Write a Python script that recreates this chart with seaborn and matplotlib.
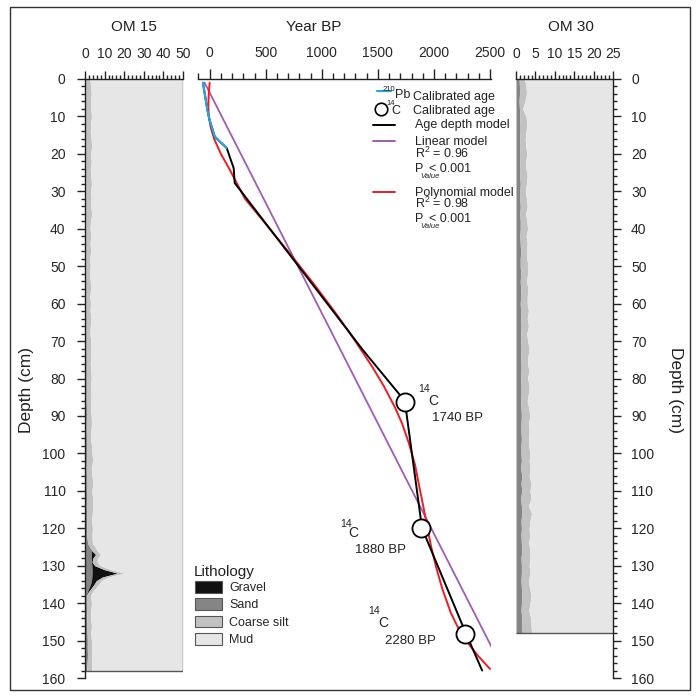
"""Age-depth model with grain size columns of two cores."""

import matplotlib
matplotlib.use('Agg')
import matplotlib.pyplot as plt
from matplotlib.patches import Patch, Rectangle
from matplotlib.ticker import MultipleLocator
import seaborn as sns

# ---- data ----
# 210Pb calibrated ages (yr BP, depth cm)
pb_age = [-60, -45, -20, 0, 45, 104, 152]
pb_depth = [1, 3.7, 8.3, 11, 15.4, 17.1, 18.4]

# age depth model
adm_age = [-60, -45, -20, 0, 45, 104, 152, 179, 214, 223, 283, 339, 1366, 1696, 1741, 1893, 2286, 2429]
adm_depth = [1, 3.7, 8.3, 11, 15.4, 17.1, 18.4, 20.8, 23.8, 27.8, 30.1, 32.3, 72.4, 84.4, 86.3, 120, 148.2, 158]

# 14C dated samples
c14_age = [1740, 1880, 2280]
c14_depth = [86.3, 120, 148.2]
c14_labels = ['1740 BP', '1880 BP', '2280 BP']

# linear model
lin_age = [-45, 2518]
lin_depth = [1, 152]

# polynomial model
poly_age = [0, -8, -12, -8, 10, 40, 100, 175, 245, 315, 480, 714, 935, 1110, 1230, 1342, 1452,
            1552, 1650, 1715, 1775, 1830, 1875, 1910, 1940, 1975, 2018, 2072, 2150, 2205, 2280, 2390, 2500]
poly_depth = [1, 4, 7, 10, 13, 16, 20, 24, 28, 32, 38, 46.6, 55, 62, 67, 72, 77,
              82, 87.6, 92, 97.2, 103, 109.8, 115, 119.7, 125, 130.3, 136, 142.6, 146, 149.8, 154, 157.6]

# OM 15 grain size (stacked: sand, gravel, coarse silt, then mud)
d15 = [0, 2, 4, 6, 8, 10, 12, 14, 16, 18, 20, 22, 24, 26, 28, 30, 32, 34, 36, 38,
       40, 42, 44, 46, 48, 50, 52, 54, 56, 58, 60, 62, 64, 66, 68, 70, 72, 74, 76, 78,
       80, 82, 84, 86, 88, 90, 92, 94, 96, 98, 100, 102, 104, 106, 108, 110, 112, 114, 116, 118,
       120, 122, 124, 125, 126, 127, 128, 129, 130, 131, 132, 133, 134, 135, 136, 137, 138,
       140, 142, 144, 146, 148, 150, 152, 154, 156, 158]
sand15 = [0.3, 0.3, 0.4, 0.3, 0.3, 0.4, 0.3, 0.3, 0.3, 0.4,
          0.3, 0.4, 0.3, 0.3, 0.4, 0.4, 0.3, 0.3, 0.5, 0.4,
          0.4, 0.4, 0.5, 0.5, 0.4, 0.4, 0.4, 0.5, 0.5, 0.5,
          0.5, 0.5, 0.6, 0.5, 0.5, 0.6, 0.5, 0.6, 0.6, 0.6,
          0.6, 0.6, 0.6, 0.6, 0.7, 0.7, 0.6, 0.6, 0.7, 0.7,
          0.7, 0.7, 0.6, 0.7, 0.7, 0.7, 0.8, 0.7, 0.8, 0.8,
          0.8, 0.9, 1.4,
          2.4, 3.2, 3.3, 3.2, 3.3, 3.5, 3.6, 3.6, 3.5, 3.3, 2.8, 2.0, 1.2, 0.7,
          0.7, 0.8, 0.9, 1.0, 1.1, 1.2, 1.2, 1.3, 1.1, 0.9]
gravel15 = [0] * 63 + [0, 0.3, 2.1, 0.8, 0.3, 1.5, 6.0, 12.9, 5.5, 2.5, 1.8, 1.2, 0.5, 0] + [0] * 10
silt15 = [2.2, 2.6, 2.8, 2.5, 2.7, 2.9, 2.6, 2.4, 2.8, 3.0,
          2.6, 2.8, 2.4, 2.7, 2.9, 2.5, 2.8, 2.6, 3.0, 2.4,
          2.2, 2.5, 2.1, 2.4, 2.0, 2.3, 1.9, 2.2, 2.4, 2.0,
          2.3, 2.1, 2.5, 2.2, 2.0, 2.4, 2.6, 2.3, 2.1, 2.4,
          2.6, 2.2, 2.5, 2.3, 2.1, 2.5, 2.7, 2.4, 2.2, 2.6,
          2.9, 3.2, 2.6, 2.9, 3.3, 2.8, 3.1, 3.4, 2.9, 2.6,
          3.0, 2.7, 2.4,
          2.8, 2.6, 2.6, 2.4, 2.6, 2.8, 3.2, 3.4, 3.0, 2.6, 2.4, 2.2, 2.0, 2.2,
          2.6, 2.2, 2.0, 2.3, 1.9, 2.1, 2.4, 2.0, 2.2, 2.4]

# OM 30 grain size
d30 = list(range(0, 149, 2))
sand30 = [0.8, 0.9, 0.9, 0.8, 0.9, 1.0, 0.9, 0.9, 1.0, 0.9,
          1.0, 1.0, 0.9, 1.0, 1.1, 1.0, 1.0, 1.1, 1.0, 1.1,
          1.1, 1.0, 1.1, 1.2, 1.1, 1.1, 1.2, 1.1, 1.2, 1.2,
          1.1, 1.2, 1.2, 1.3, 1.2, 1.2, 1.3, 1.2, 1.3, 1.3,
          1.2, 1.3, 1.3, 1.2, 1.3, 1.4, 1.3, 1.3, 1.4, 1.3,
          1.3, 1.4, 1.2, 1.5, 1.3, 1.5, 1.2, 1.4, 1.5, 1.3,
          1.4, 1.3, 1.4, 1.5, 1.3, 1.4, 1.4, 1.3, 1.4, 1.5,
          1.4, 1.3, 1.5, 1.4, 1.6]
silt30 = [1.4, 1.7, 1.8, 1.5, 0.8, 1.6, 1.9, 1.7, 1.4, 1.6,
          1.8, 1.5, 1.7, 1.9, 1.6, 1.4, 1.7, 1.8, 1.5, 1.7,
          1.9, 1.6, 1.8, 1.5, 1.7, 2.0, 1.8, 1.6, 1.9, 1.7,
          1.8, 2.0, 1.7, 1.9, 1.6, 1.8, 2.1, 1.9, 1.7, 2.0,
          1.8, 2.1, 1.9, 1.7, 2.0, 2.2, 1.9, 2.1, 1.8, 2.0,
          2.3, 2.0, 2.4, 1.9, 2.6, 2.1, 2.7, 1.8, 2.5, 2.3,
          2.0, 2.2, 1.9, 2.1, 2.3, 2.0, 2.2, 1.9, 2.1, 2.4,
          2.2, 2.0, 2.3, 2.5, 2.4]

litho_names = ['Gravel', 'Sand', 'Coarse silt', 'Mud']
litho_colors = ['#111111', '#858585', '#c2c2c2', '#e6e6e6']

BLUE = '#2ea3dc'
PURPLE = '#a05cb4'
RED = '#ee1c24'
INK = '#222222'

sns.set_theme(style='white')
plt.rcParams['font.family'] = ['Liberation Sans', 'DejaVu Sans']
plt.rcParams['mathtext.fontset'] = 'custom'
plt.rcParams['mathtext.rm'] = 'Liberation Sans'
plt.rcParams['mathtext.it'] = 'Liberation Sans:italic'

W, H = 696, 697
fig = plt.figure(figsize=(W / 100, H / 100), dpi=100)

y_top, y_bot = 79, 678
def rect(x0, x1):
    return [x0 / W, 1 - y_bot / H, (x1 - x0) / W, (y_bot - y_top) / H]

ax15 = fig.add_axes(rect(85, 183))
axm = fig.add_axes(rect(198, 491))
ax30 = fig.add_axes(rect(516, 613))

for ax in (ax15, axm, ax30):
    ax.set_ylim(160, 0)
    ax.set_facecolor('none')
    for s in ax.spines.values():
        s.set_visible(False)
        s.set_color(INK)
        s.set_linewidth(1.0)
    ax.spines['top'].set_visible(True)
    ax.xaxis.set_ticks_position('top')
    ax.tick_params(axis='x', which='major', direction='out', length=6, width=1,
                   color=INK, labelsize=10, pad=7, top=True, bottom=False)
    ax.tick_params(axis='x', which='minor', direction='out', length=3, width=1,
                   color=INK, top=True, bottom=False)
    ax.grid(False)


def stack_column(ax, depth, layers, colors, xmax):
    # stacked fills from the left, remainder filled with mud
    left = [0.0] * len(depth)
    for vals, col in zip(layers, colors):
        right = [a + b for a, b in zip(left, vals)]
        ax.fill_betweenx(depth, left, right, color=col, linewidth=0)
        left = right
    ax.fill_betweenx(depth, left, xmax, color=litho_colors[3], linewidth=0)
    ax.hlines(depth[-1], 0, xmax, color='#555555', lw=1.0)


# ---- OM 15 ----
ax15.set_xlim(0, 50)
stack_column(ax15, d15, [sand15, gravel15, silt15],
             [litho_colors[1], litho_colors[0], litho_colors[2]], 50)
ax15.vlines(50, 0, d15[-1], color='#555555', lw=1.0)
ax15.set_xticks([0, 10, 20, 30, 40, 50])
ax15.xaxis.set_minor_locator(MultipleLocator(2))
ax15.spines['left'].set_visible(True)
ax15.yaxis.set_ticks_position('left')
ax15.set_yticks(range(0, 161, 10))
ax15.yaxis.set_minor_locator(MultipleLocator(2))
ax15.tick_params(axis='y', which='major', direction='out', length=6, width=1,
                 color=INK, labelsize=10, pad=8, left=True)
ax15.tick_params(axis='y', which='minor', direction='out', length=3, width=1,
                 color=INK, left=True)

# ---- OM 30 ----
ax30.set_xlim(0, 25)
stack_column(ax30, d30, [sand30, silt30], [litho_colors[1], litho_colors[2]], 25)
ax30.set_xticks([0, 5, 10, 15, 20, 25])
ax30.xaxis.set_minor_locator(MultipleLocator(1))
ax30.spines['right'].set_visible(True)
ax30.yaxis.set_ticks_position('right')
ax30.set_yticks(range(0, 161, 10))
ax30.yaxis.set_minor_locator(MultipleLocator(2))
ax30.tick_params(axis='y', which='major', direction='out', length=6, width=1,
                 color=INK, labelsize=10, pad=7, right=True, left=False,
                 labelright=True, labelleft=False)
ax30.tick_params(axis='y', which='minor', direction='out', length=3, width=1,
                 color=INK, right=True, left=False)

# ---- age model ----
axm.set_zorder(3)
sns.lineplot(x=lin_age, y=lin_depth, sort=False, estimator=None, color=PURPLE, lw=1.3, ax=axm)
sns.lineplot(x=poly_age, y=poly_depth, sort=False, estimator=None, color=RED, lw=1.4, ax=axm)
sns.lineplot(x=adm_age, y=adm_depth, sort=False, estimator=None, color='black', lw=1.4, ax=axm)
sns.lineplot(x=pb_age, y=pb_depth, sort=False, estimator=None, color=BLUE, lw=1.6, ax=axm)
sns.scatterplot(x=c14_age, y=c14_depth, s=170, marker='o', facecolor='white',
                edgecolor='black', linewidth=1.3, zorder=5, ax=axm)
axm.set_xlabel('')
axm.set_ylabel('')
axm.set_ylim(160, 0)
axm.set_xlim(-104, 2508)
axm.set_xticks([0, 500, 1000, 1500, 2000, 2500])
axm.xaxis.set_minor_locator(MultipleLocator(100))
axm.set_yticks([])
axm.tick_params(axis='x', which='major', length=7)
axm.tick_params(axis='x', which='minor', length=4)

# annotations for 14C dates (superscript, C, label)
ann_pos = [((1860, 83.5), (1949, 87.1), (1979, 91.3)),
           ((1161, 119.6), (1235, 122.4), (1295, 126.5)),
           ((1414, 143.0), (1503, 146.5), (1563, 150.9))]
for (p14, pc, plab), lab in zip(ann_pos, c14_labels):
    axm.text(*p14, '14', fontsize=7.5, va='baseline', color=INK)
    axm.text(*pc, 'C', fontsize=10, va='baseline', color=INK)
    axm.text(*plab, lab, fontsize=9.5, va='baseline', color=INK)

# in-plot legend
kw = dict(fontsize=9, va='baseline', color=INK, clip_on=False)
small = dict(fontsize=5.5, va='baseline', color=INK, clip_on=False)
axm.plot([1488, 1613], [3.2, 3.2], color=BLUE, lw=1.6)
axm.text(1542, 3.1, '210', **small)
axm.text(1652, 5.2, 'Pb', **kw)
axm.text(1812, 5.6, 'Calibrated age', **kw)
axm.plot([1530], [8.0], marker='o', ms=9, mfc='white', mec='black', mew=1.2)
axm.text(1577, 6.9, '14', **small)
axm.text(1622, 9.4, 'C', **kw)
axm.text(1812, 9.4, 'Calibrated age', **kw)
axm.plot([1458, 1652], [12.3, 12.3], color='black', lw=1.4)
axm.text(1830, 13.2, 'Age depth model', **kw)
axm.plot([1458, 1652], [16.6, 16.6], color=PURPLE, lw=1.4)
axm.text(1830, 17.5, 'Linear model', **kw)
axm.text(1830, 21.2, 'R$^2$ = 0.96', **kw)
axm.text(1830, 24.8, 'P', **kw)
axm.text(1875, 26.4, 'Value', style='italic', **small)
axm.text(1958, 24.8, '< 0.001', **kw)
axm.plot([1458, 1652], [30.2, 30.2], color=RED, lw=1.4)
axm.text(1830, 31.2, 'Polynomial model', **kw)
axm.text(1830, 34.5, 'R$^2$ = 0.98', **kw)
axm.text(1830, 38.1, 'P', **kw)
axm.text(1875, 39.7, 'Value', style='italic', **small)
axm.text(1958, 38.1, '< 0.001', **kw)

# titles and axis labels
fig.text(133.5 / W, 1 - 27 / H, 'OM 15', ha='center', va='center', fontsize=11, color=INK)
fig.text(314 / W, 1 - 27 / H, 'Year BP', ha='center', va='center', fontsize=11, color=INK)
fig.text(571 / W, 1 - 27 / H, 'OM 30', ha='center', va='center', fontsize=11, color=INK)
fig.text(26 / W, 1 - 390 / H, 'Depth (cm)', rotation=90, ha='center', va='center', fontsize=12.5, color=INK)
fig.text(676 / W, 1 - 390 / H, 'Depth (cm)', rotation=270, ha='center', va='center', fontsize=12.5, color=INK)

# lithology legend
fig.text(194 / W, 1 - 572 / H, 'Lithology', ha='left', va='center', fontsize=11, color=INK)
handles = [Patch(facecolor=c, edgecolor='#555555', linewidth=0.8) for c in litho_colors]
fig.legend(handles, litho_names, loc='upper left',
           bbox_to_anchor=(195 / W, 1 - 581 / H), frameon=False, fontsize=9,
           handlelength=2.2, handleheight=1.05, labelspacing=0.35,
           handletextpad=0.55, borderpad=0, borderaxespad=0)

# outer frame
fig.patches.append(Rectangle((10 / W, 1 - 690 / H), 680 / W, 683 / H, transform=fig.transFigure,
                             fill=False, edgecolor='#333333', lw=1.0))

fig.savefig('out.png', dpi=100)
